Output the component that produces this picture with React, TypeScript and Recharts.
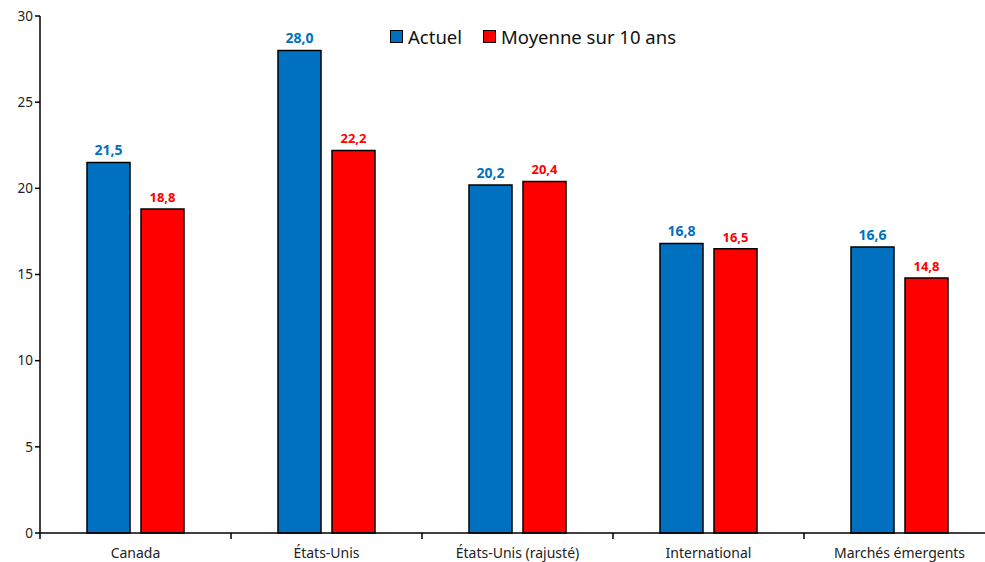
import { BarChart, Bar, XAxis, YAxis, LabelList } from "recharts";

const categories = ["Canada", "États-Unis", "États-Unis (rajusté)", "International", "Marchés émergents"];
const actuel = [21.5, 28.0, 20.2, 16.8, 16.6];
const moyenne = [18.8, 22.2, 20.4, 16.5, 14.8];
const yTicks = [0, 5, 10, 15, 20, 25, 30];

const BLUE = "#0070C0";
const RED = "#FF0000";
const FONT = "'Noto Sans', 'Open Sans', sans-serif";

const data = categories.map((name, i) => ({ name, actuel: actuel[i], moyenne: moyenne[i] }));

const fmt = (v: any) => Number(v).toFixed(1).replace(".", ",");

// x-axis tick: label at center, tick marks at category boundaries
const CategoryTick = (props: any) => {
    const { x, y, payload, index } = props;
    const half = 955 / categories.length / 2;
    return (
        <g>
            <line x1={x - half} x2={x - half} y1={y - 8} y2={y - 2} stroke="#000" strokeWidth={1.5} />
            {index === categories.length - 1 && (
                <line x1={x + half} x2={x + half} y1={y - 8} y2={y - 2} stroke="#000" strokeWidth={1.5} />
            )}
            <text x={x} y={y + 17} textAnchor="middle" fontSize={14} fill="#222" fontFamily={FONT}>
                {payload.value}
            </text>
        </g>
    );
};

export default function App() {
    return (
        <div style={{ position: "absolute", left: 0, top: 0, width: 985, height: 562, overflow: "hidden", background: "#fff" }}>
            <BarChart
                width={1000}
                height={562}
                data={data}
                margin={{ top: 16, right: 5, left: 0, bottom: 0 }}
                barGap={11}
                barSize={43}
            >
                <XAxis
                    dataKey="name"
                    height={29}
                    axisLine={{ stroke: "#000", strokeWidth: 1.5 }}
                    tickLine={false}
                    tick={<CategoryTick />}
                    interval={0}
                />
                <YAxis
                    width={40}
                    domain={[0, 30]}
                    ticks={yTicks}
                    axisLine={{ stroke: "#000", strokeWidth: 1.5 }}
                    tickLine={{ stroke: "#000", strokeWidth: 1.5 }}
                    tickSize={5}
                    tick={{ fontSize: 13.5, fill: "#222", fontFamily: FONT }}
                />
                <Bar dataKey="actuel" name="Actuel" fill={BLUE} stroke="#000" strokeWidth={1.5} isAnimationActive={false}>
                    <LabelList dataKey="actuel" position="top" offset={7} formatter={fmt}
                        style={{ fill: BLUE, fontSize: 14, fontWeight: 700, fontFamily: FONT }} />
                </Bar>
                <Bar dataKey="moyenne" name="Moyenne sur 10 ans" fill={RED} stroke="#000" strokeWidth={1.5} isAnimationActive={false}>
                    <LabelList dataKey="moyenne" position="top" offset={7} formatter={fmt}
                        style={{ fill: RED, fontSize: 13, fontWeight: 700, fontFamily: FONT }} />
                </Bar>
            </BarChart>
            <div style={{ position: "absolute", top: 24, left: 390, display: "flex", alignItems: "center", fontFamily: FONT, fontSize: 18.5, color: "#111" }}>
                <span style={{ width: 11, height: 11, background: BLUE, border: "1.5px solid #000", marginRight: 5 }} />
                <span style={{ marginRight: 21 }}>Actuel</span>
                <span style={{ width: 11, height: 11, background: RED, border: "1.5px solid #000", marginRight: 5 }} />
                <span>Moyenne sur 10 ans</span>
            </div>
        </div>
    );
}
